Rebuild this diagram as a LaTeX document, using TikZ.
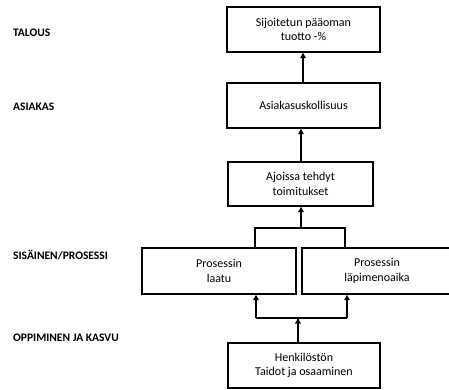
\documentclass[tikz,border=0pt]{standalone}
\usepackage{fontspec}
\setmainfont{Carlito}
\usetikzlibrary{arrows.meta}
\begin{document}
\begin{tikzpicture}[x=1pt,y=-1pt,
  box/.style={draw, line width=1.4pt, inner sep=0pt, align=center,
    font=\fontsize{12}{14.5}\selectfont},
  level/.style={anchor=west, inner sep=0pt, font=\bfseries\fontsize{11.5}{13}\selectfont},
  link/.style={line width=1.4pt},
  arr/.style={link, -{Triangle[length=5.5pt,width=5.5pt]}}]
\useasboundingbox (0,0) rectangle (449,389);
\begin{scope}
\clip (0,0) rectangle (449,389);
% perspective labels
\node[level] (lt) at (13,33) {TALOUS};
\node[level] (la) at (13,107) {ASIAKAS};
\node[level] (ls) at (13,255) {SISÄINEN/PROSESSI};
\node[level] (lo) at (13,338) {OPPIMINEN JA KASVU};
% measures
\node[box, minimum width=153pt, minimum height=45pt] (roi) at (303.5,29.5) {Sijoitetun pääoman\\tuotto -\%};
\node[box, minimum width=153pt, minimum height=45pt] (loy) at (303.5,105.5) {Asiakasuskollisuus};
\node[box, minimum width=145pt, minimum height=44pt] (del) at (300.5,184) {Ajoissa tehdyt\\toimitukset};
\node[box, minimum width=154pt, minimum height=46pt] (qual) at (219,271) {Prosessin\\laatu};
\node[box, minimum width=150pt, minimum height=46pt] (lead) at (377,271) {Prosessin\\läpimenoaika};
\node[box, minimum width=152pt, minimum height=45pt] (skill) at (304,365.5) {Henkilöstön\\Taidot ja osaaminen};
% junction points
\coordinate (jt) at (301,228);
\coordinate (jb) at (298,318);
% cause-and-effect links
\draw[arr] (loy.north -| 303,0) -- (roi.south -| 303,0);
\draw[arr] (del.north -| 301,0) -- (loy.south -| 301,0);
\draw[link] (qual.north -| 255,0) |- (jt) -| (lead.north -| 345,0);
\draw[arr] (jt) -- (del.south -| jt);
\draw[arr] (skill.north -| jb) -- (jb);
\draw[link] (256,318) -- (347,318);
\draw[arr] (256,318) -- (qual.south -| 256,0);
\draw[arr] (347,318) -- (lead.south -| 347,0);
\end{scope}
\end{tikzpicture}
\end{document}
